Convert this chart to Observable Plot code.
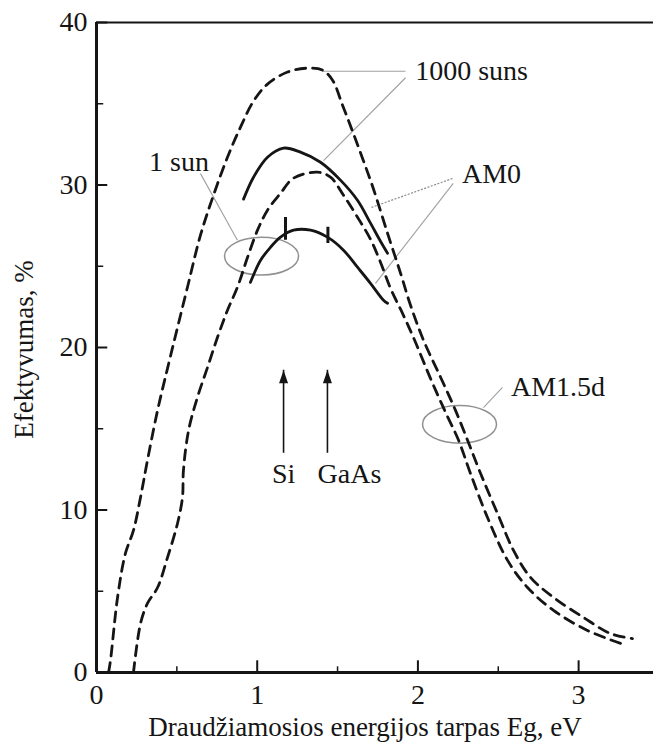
<!DOCTYPE html>
<html>
<head>
<meta charset="utf-8">
<script src="https://cdn.jsdelivr.net/npm/d3@7"></script>
<script src="https://cdn.jsdelivr.net/npm/@observablehq/plot@0.6"></script>
<style>
  html, body { margin: 0; padding: 0; background: #fff; }
</style>
</head>
<body>
<div id="chart"></div>
<script>
// ---- data ----
const xTicks = [0, 1, 2, 3];
const xMinorTicks = [0.5, 1.5, 2.5];
const yTicks = [0, 10, 20, 30, 40];
const yMinorTicks = [5, 15, 25, 35];

// 1000 suns, dashed (upper)
const egSunsDashed = [0.075,0.087,0.131,0.180,0.230,0.274,0.317,0.380,0.442,0.566,0.647,0.728,0.815,0.896,0.977,1.064,1.189,1.313,1.406,1.469,1.531,1.593,1.655,1.724,1.811,1.892,1.954,2.035,2.141,2.234,2.309,2.390,2.495,2.595,2.701,2.844,3.030,3.198,3.335];
const effSunsDashed = [0,0.74,4.62,7.33,8.74,10.78,13.05,16.13,18.72,23.71,26.91,29.37,31.71,33.56,35.16,36.21,36.95,37.19,37.07,36.45,34.91,33.31,31.65,29.74,27.03,24.57,22.60,20.44,18.17,16.13,14.29,12.25,9.79,7.51,5.85,4.62,3.39,2.40,2.09];

// 1 sun, dashed (lower)
const egSunDashed = [0.230,0.274,0.317,0.380,0.442,0.504,0.535,0.541,0.573,0.628,0.691,0.753,0.815,0.877,0.940,1.002,1.064,1.145,1.226,1.375,1.456,1.537,1.624,1.705,1.767,1.829,1.910,1.985,2.078,2.172,2.253,2.327,2.433,2.558,2.682,2.844,3.055,3.261];
const effSunDashed = [0,3.02,4.25,5.23,7.08,9.17,10.78,12.44,14.90,16.93,18.78,20.63,22.29,23.71,25.55,27.22,28.45,29.49,30.42,30.79,30.48,29.37,28.02,26.66,25.25,23.65,21.98,20.32,18.10,16.01,14.29,12.25,9.54,6.90,5.23,3.82,2.59,1.79];

// 1000 suns, solid (upper)
const egSunsSolid = [0.915,0.977,1.064,1.164,1.269,1.394,1.518,1.624,1.705,1.767,1.811];
const effSunsSolid = [29.13,30.48,31.71,32.27,32.02,31.40,30.30,29.06,27.65,26.54,25.80];

// 1 sun, solid (lower)
const egSunSolid = [0.958,1.021,1.083,1.145,1.226,1.332,1.437,1.537,1.624,1.705,1.786,1.811];
const effSunSolid = [24.01,25.37,26.17,26.79,27.22,27.22,26.79,25.99,24.94,23.95,22.91,22.72];

// small marks on the lower solid curve (Si, GaAs)
const markEg = [1.176, 1.440];
const markLow = [26.6, 26.4];
const markHigh = [28.0, 27.4];

// material arrows
const materials = ["Si", "GaAs"];
const arrowEg = [1.164, 1.437];
const arrowFrom = [13.49, 13.49];
const arrowTo = [18.6, 18.6];
const materialLabelEg = [1.164, 1.574];
const materialLabelEff = [12.2, 12.2];

// annotation labels
const labels = ["1000 suns", "AM0", "1 sun", "AM1.5d"];
const labelEg = [2.334, 2.458, 0.513, 2.872];
const labelEff = [37.0, 30.7, 31.4, 17.55];

// leader lines
const leadX1 = [0.647, 1.406, 1.923, 2.215, 2.220, 2.526];
const leadY1 = [30.7, 37.0, 36.6, 30.4, 30.1, 17.55];
const leadX2 = [0.877, 1.923, 1.413, 1.705, 1.736, 2.408];
const leadY2 = [26.6, 37.0, 31.5, 28.6, 23.95, 16.3];
const leadDotted = [false, false, false, true, false, false];

// ellipses
const ellEg = [1.027, 2.259];
const ellEff = [25.62, 15.27];

// ---- build tables ----
const zip = (xs, ys) => xs.map((x, i) => ({x, y: ys[i]}));
const sunsDashed = zip(egSunsDashed, effSunsDashed);
const sunDashed = zip(egSunDashed, effSunDashed);
const sunsSolid = zip(egSunsSolid, effSunsSolid);
const sunSolid = zip(egSunSolid, effSunSolid);
const marks = markEg.map((x, i) => ({x, y1: markLow[i], y2: markHigh[i]}));
const arrows = materials.map((m, i) => ({m, x: arrowEg[i], y1: arrowFrom[i], y2: arrowTo[i]}));
const matLabels = materials.map((m, i) => ({m, x: materialLabelEg[i], y: materialLabelEff[i]}));
const annLabels = labels.map((t, i) => ({t, x: labelEg[i], y: labelEff[i]}));
const leaders = leadX1.map((x1, i) => ({x1, y1: leadY1[i], x2: leadX2[i], y2: leadY2[i], dotted: leadDotted[i]}));
const ellipses = ellEg.map((x, i) => ({x, y: ellEff[i]}));

// custom symbols
const ellipseSymbol = {
  draw(context, size) {
    const r = Math.sqrt(size / Math.PI);
    const rx = r, ry = r * 0.51, k = 0.5522847498;
    const kx = k * rx, ky = k * ry;
    context.moveTo(rx, 0);
    context.bezierCurveTo(rx, ky, kx, ry, 0, ry);
    context.bezierCurveTo(-kx, ry, -rx, ky, -rx, 0);
    context.bezierCurveTo(-rx, -ky, -kx, -ry, 0, -ry);
    context.bezierCurveTo(kx, -ry, rx, -ky, rx, 0);
    context.closePath();
  }
};
const headSymbol = {
  draw(context, size) {
    context.moveTo(0, 0);
    context.lineTo(4.5, 13);
    context.lineTo(-4.5, 13);
    context.closePath();
  }
};

const font = "'Liberation Serif', 'Times New Roman', Times, serif";
const ink = "#151515";
const FS = 28;

const chart = Plot.plot({
  width: 653,
  height: 746,
  marginLeft: 96,
  marginRight: 0,
  marginTop: 22,
  marginBottom: 74,
  x: {domain: [0, 3.466]},
  y: {domain: [0, 40]},
  style: {fontFamily: font, fontSize: FS + "px", background: "#fff", color: ink},
  marks: [
    // frame
    Plot.ruleY([40], {stroke: ink, strokeWidth: 2}),
    Plot.ruleY([0], {stroke: ink, strokeWidth: 3}),
    Plot.ruleX([0], {stroke: ink, strokeWidth: 3}),
    // inward ticks
    Plot.ruleY(yTicks, {y: d => d, x1: 0, x2: 0.07, stroke: ink, strokeWidth: 2}),
    Plot.ruleY(yMinorTicks, {y: d => d, x1: 0, x2: 0.045, stroke: ink, strokeWidth: 1.5}),
    Plot.ruleX(xTicks, {x: d => d, y1: 0, y2: 0.72, stroke: ink, strokeWidth: 2}),
    Plot.ruleX(xMinorTicks, {x: d => d, y1: 0, y2: 0.35, stroke: ink, strokeWidth: 1.5}),
    // tick labels
    Plot.axisX({ticks: xTicks, tickSize: 0, tickPadding: 12, tickFormat: d => String(d), label: null, fontSize: FS, fontFamily: font, fill: ink}),
    Plot.axisY({ticks: yTicks, tickSize: 0, tickPadding: 9, tickFormat: d => String(d), label: null, fontSize: FS, fontFamily: font, fill: ink}),
    // axis titles
    Plot.text(["Draudžiamosios energijos tarpas Eg, eV"], {text: d => d, frameAnchor: "bottom", textAnchor: "middle", lineAnchor: "middle", dy: 55, dx: -10, fontSize: 27, fontFamily: font, fill: ink}),
    Plot.text(["Efektyvumas, %"], {text: d => d, frameAnchor: "left", textAnchor: "middle", lineAnchor: "middle", rotate: -90, dx: -72, dy: 2, fontSize: 27, fontFamily: font, fill: ink}),
    // leader lines
    Plot.link(leaders.filter(d => !d.dotted), {x1: "x1", y1: "y1", x2: "x2", y2: "y2", stroke: "#a0a0a0", strokeWidth: 1.1}),
    Plot.link(leaders.filter(d => d.dotted), {x1: "x1", y1: "y1", x2: "x2", y2: "y2", stroke: "#8a8a8a", strokeWidth: 1.2, strokeDasharray: "2,1.5"}),
    // ellipses
    Plot.dot(ellipses, {x: "x", y: "y", symbol: ellipseSymbol, r: 37, fill: "none", stroke: "#909090", strokeWidth: 1.5}),
    // curves
    Plot.line(sunsDashed, {x: "x", y: "y", curve: "catmull-rom", stroke: ink, strokeWidth: 2.8, strokeDasharray: "10,7"}),
    Plot.line(sunDashed, {x: "x", y: "y", curve: "catmull-rom", stroke: ink, strokeWidth: 2.8, strokeDasharray: "10,7"}),
    Plot.line(sunsSolid, {x: "x", y: "y", curve: "catmull-rom", stroke: ink, strokeWidth: 2.8}),
    Plot.line(sunSolid, {x: "x", y: "y", curve: "catmull-rom", stroke: ink, strokeWidth: 2.8}),
    Plot.ruleX(marks, {x: "x", y1: "y1", y2: "y2", stroke: ink, strokeWidth: 3}),
    // arrows
    Plot.ruleX(arrows, {x: "x", y1: "y1", y2: "y2", stroke: ink, strokeWidth: 1.6}),
    Plot.dot(arrows, {x: "x", y: "y2", symbol: headSymbol, r: 5, fill: ink, stroke: "none"}),
    // labels
    Plot.text(matLabels, {x: "x", y: "y", text: "m", fontSize: FS, fontFamily: font, fill: ink}),
    Plot.text(annLabels, {x: "x", y: "y", text: "t", fontSize: FS, fontFamily: font, fill: ink})
  ]
});
document.getElementById("chart").appendChild(chart);
</script>
</body>
</html>
